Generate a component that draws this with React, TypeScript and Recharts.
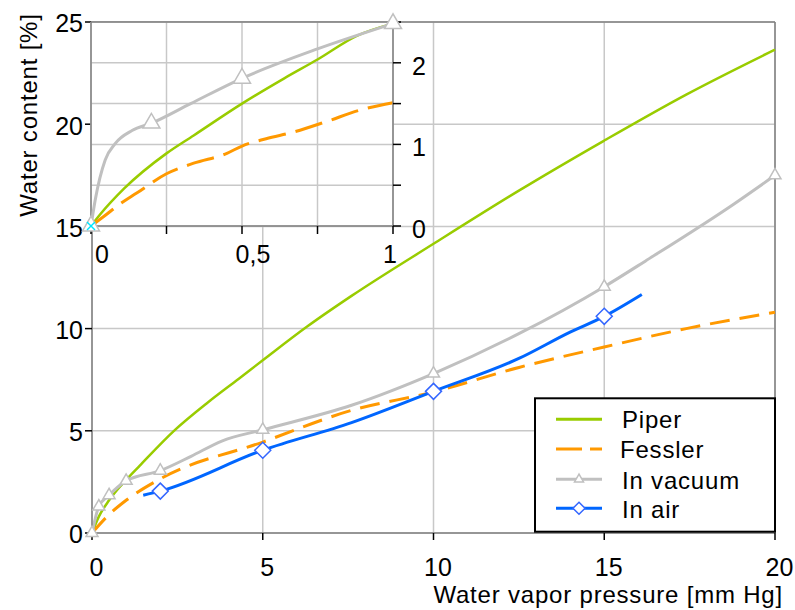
import React from 'react';
import { CartesianGrid, Line, LineChart, ReferenceLine, XAxis, YAxis } from 'recharts';

const FONT = '"Liberation Sans", Arial, sans-serif';

// main chart: water vapor pressure [mm Hg] -> water content [%]
const piperP = [0, 0.2, 0.5, 1, 1.4, 2.4, 3.4, 4.3, 5, 6.3, 7.6, 10, 12.5, 15, 17.4, 20];
const piperW = [0, 0.8, 1.6, 2.6, 3.3, 5.0, 6.4, 7.55, 8.45, 10.1, 11.6, 14.15, 16.75, 19.2, 21.45, 23.65];

const fesslerP = [0, 0.5, 1, 2, 5, 7.6, 10, 12.5, 15, 17.4, 20];
const fesslerW = [0, 0.9, 1.6, 2.65, 4.45, 6.0, 6.9, 8.1, 9.1, 10.0, 10.8];

const vacuumP = [0, 0.2, 0.5, 1, 2, 2.9, 3.8, 5, 7.6, 10, 12.5, 15, 16.2, 18.8, 20];
const vacuumW = [0, 1.3, 1.85, 2.55, 3.05, 3.75, 4.5, 5.05, 6.25, 7.8, 9.75, 12.05, 13.3, 16.1, 17.5];
const vacuumMarks = [0, 0.2, 0.5, 1, 2, 5, 10, 15, 20];

const airP = [1.5, 2, 5, 7.6, 10, 12.5, 14, 15, 16.1];
const airW = [1.85, 2.05, 4.05, 5.4, 6.93, 8.54, 9.83, 10.6, 11.67];
const airMarks = [2, 5, 10, 15];

// inset: 0..1 mm Hg
const insetPiperP = [0, 0.03, 0.11, 0.25, 0.34, 0.5, 0.64, 0.75, 0.88, 1];
const insetPiperW = [0, 0.14, 0.46, 0.89, 1.11, 1.5, 1.81, 2.04, 2.33, 2.48];

const insetFesslerP = [0, 0.04, 0.1, 0.15, 0.25, 0.34, 0.45, 0.5, 0.58, 0.67, 0.78, 0.89, 1];
const insetFesslerW = [0, 0.11, 0.28, 0.4, 0.64, 0.77, 0.89, 0.98, 1.07, 1.15, 1.28, 1.42, 1.51];

const insetVacuumP = [0, 0.014, 0.047, 0.08, 0.136, 0.2, 0.33, 0.5, 0.75, 1];
const insetVacuumW = [0, 0.32, 0.81, 1.01, 1.17, 1.26, 1.5, 1.81, 2.17, 2.48];
const insetVacuumMarks = [0, 0.2, 0.5, 1];

const insetAirP = [0];
const insetAirW = [0];

const mainXTicks = [0, 5, 10, 15, 20];
const mainYTicks = [0, 5, 10, 15, 20, 25];
const insetXTicks = [0, 0.25, 0.5, 0.75, 1];
const insetYTicks = [0, 0.5, 1, 1.5, 2, 2.5];
const insetXLabels: Record<string, string> = { '0': '0', '0.5': '0,5', '1': '1' };

const seriesNames = ['Piper', 'Fessler', 'In vacuum', 'In air'];
const xTitle = 'Water vapor pressure [mm Hg]';
const yTitle = 'Water content [%]';

const GREEN = '#99cc00';
const ORANGE = '#ff9900';
const GRAY = '#c0c0c0';
const BLUE = '#0066ff';
const DIAMOND = '#3366ff';
const GRID = '#c8c8c8';
const AXIS = '#808080';

const rows = (p: number[], w: number[], marks: number[] = []) =>
  p.map((x, i) => ({ p: x, w: w[i], m: marks.includes(x) }));

const piperData = rows(piperP, piperW);
const fesslerData = rows(fesslerP, fesslerW);
const vacuumData = rows(vacuumP, vacuumW, vacuumMarks);
const airData = rows(airP, airW, airMarks);
const insetPiperData = rows(insetPiperP, insetPiperW);
const insetFesslerData = rows(insetFesslerP, insetFesslerW);
const insetVacuumData = rows(insetVacuumP, insetVacuumW, insetVacuumMarks);
const insetAirData = rows(insetAirP, insetAirW, insetAirP);

const trianglePts = (cx: number, cy: number, w: number) =>
  `${cx},${cy - w * 0.577} ${cx - w / 2},${cy + w * 0.289} ${cx + w / 2},${cy + w * 0.289}`;

const diamondPts = (cx: number, cy: number, r: number) =>
  `${cx},${cy - r} ${cx + r},${cy} ${cx},${cy + r} ${cx - r},${cy}`;

const triangleDot = (w: number) => (props: any) => {
  const { cx, cy, payload, index } = props;
  if (!payload.m) return <g key={index} />;
  return <polygon key={index} points={trianglePts(cx, cy, w)} fill="#fff" stroke={GRAY} strokeWidth={1.5} />;
};

const diamondDot = (props: any) => {
  const { cx, cy, payload, index } = props;
  if (!payload.m) return <g key={index} />;
  return <polygon key={index} points={diamondPts(cx, cy, 8)} fill="#fff" stroke={DIAMOND} strokeWidth={1.5} />;
};

const crossDot = (props: any) => {
  const { cx, cy, index } = props;
  return (
    <g key={index} stroke="#00e5ff" strokeWidth={1.5}>
      <line x1={cx - 4} y1={cy - 4} x2={cx + 4} y2={cy + 4} />
      <line x1={cx - 4} y1={cy + 4} x2={cx + 4} y2={cy - 4} />
    </g>
  );
};

const insetShift: Record<string, number> = { '0': 11, '0.5': 11, '1': -3 };

const InsetXTick = (props: any) => {
  const { x, y, payload } = props;
  const key = String(payload.value);
  const label = insetXLabels[key];
  if (!label) return <g />;
  return (
    <text x={x + (insetShift[key] || 0)} y={y} dy="0.71em" textAnchor="middle" fontSize={25} fontFamily={FONT} fill="#000">
      {label}
    </text>
  );
};

const tickFont = { fill: '#000', fontSize: 25, fontFamily: FONT };

const App = () => {
  return (
    <div style={{ position: 'absolute', left: 0, top: 0, width: 795, height: 610, background: '#fff' }}>
      <div style={{ position: 'absolute', left: 0, top: 0 }}>
        <LineChart width={795} height={610} margin={{ top: 22, right: 20, bottom: 0, left: 0 }}>
          <CartesianGrid stroke={GRID} strokeWidth={1.5} />
          <XAxis
            dataKey="p"
            type="number"
            domain={[0, 20]}
            ticks={mainXTicks}
            interval={0}
            height={77}
            axisLine={{ stroke: AXIS, strokeWidth: 1.5 }}
            tickLine={{ stroke: '#000', strokeWidth: 1.5 }}
            tickSize={7}
            tickMargin={18}
            tick={{ ...tickFont, dx: 4.5 }}
          />
          <YAxis
            type="number"
            domain={[0, 25]}
            ticks={mainYTicks}
            interval={0}
            width={92}
            axisLine={{ stroke: AXIS, strokeWidth: 1.5 }}
            tickLine={{ stroke: '#000', strokeWidth: 1.5 }}
            tickSize={7}
            tickMargin={2}
            tick={{ ...tickFont, dy: 1.5 }}
          />
          <ReferenceLine y={25} stroke={AXIS} strokeWidth={1.5} />
          <ReferenceLine x={20} stroke={AXIS} strokeWidth={1.5} />
          <Line data={piperData} dataKey="w" name={seriesNames[0]} type="monotone" stroke={GREEN} strokeWidth={2.5} dot={false} isAnimationActive={false} />
          <Line data={fesslerData} dataKey="w" name={seriesNames[1]} type="monotone" stroke={ORANGE} strokeWidth={3} strokeDasharray="20 10" dot={false} isAnimationActive={false} />
          <Line data={vacuumData} dataKey="w" name={seriesNames[2]} type="monotone" stroke={GRAY} strokeWidth={3} dot={triangleDot(12)} isAnimationActive={false} />
          <Line data={airData} dataKey="w" name={seriesNames[3]} type="monotone" stroke={BLUE} strokeWidth={3} dot={diamondDot} isAnimationActive={false} />
        </LineChart>
      </div>

      <div style={{ position: 'absolute', left: 0, top: 0 }}>
        <LineChart width={460} height={275} margin={{ top: 22, right: 17, bottom: 0, left: 91 }}>
          <CartesianGrid stroke={GRID} strokeWidth={1.5} fill="#fff" fillOpacity={1} />
          <XAxis
            dataKey="p"
            type="number"
            domain={[0, 1]}
            ticks={insetXTicks}
            interval={0}
            height={49}
            axisLine={{ stroke: AXIS, strokeWidth: 1.5 }}
            tickLine={{ stroke: '#000', strokeWidth: 1.5 }}
            tickSize={8}
            tickMargin={11}
            tick={<InsetXTick />}
          />
          <YAxis
            orientation="right"
            type="number"
            domain={[0, 2.5]}
            ticks={insetYTicks}
            interval={0}
            width={50}
            axisLine={{ stroke: AXIS, strokeWidth: 1.5 }}
            tickLine={{ stroke: '#000', strokeWidth: 1.5 }}
            tickSize={8}
            tickMargin={11}
            tickFormatter={(v: number) => (Number.isInteger(v) ? String(v) : '')}
            tick={{ ...tickFont, dy: 3 }}
          />
          <ReferenceLine y={2.5} stroke={AXIS} strokeWidth={1.5} />
          <ReferenceLine x={0} stroke={AXIS} strokeWidth={1.5} />
          <Line data={insetPiperData} dataKey="w" type="monotone" stroke={GREEN} strokeWidth={2.5} dot={false} isAnimationActive={false} />
          <Line data={insetFesslerData} dataKey="w" type="monotone" stroke={ORANGE} strokeWidth={3} strokeDasharray="28 10" dot={false} isAnimationActive={false} />
          <Line data={insetVacuumData} dataKey="w" type="monotone" stroke={GRAY} strokeWidth={3} dot={triangleDot(17)} isAnimationActive={false} />
          <Line data={insetAirData} dataKey="w" stroke="none" dot={crossDot} isAnimationActive={false} />
        </LineChart>
      </div>

      <svg width={795} height={610} style={{ position: 'absolute', left: 0, top: 0, pointerEvents: 'none' }}>
        <text x={36.5} y={115} transform="rotate(-90 36.5 115)" textAnchor="middle" fontSize={24} letterSpacing={0.8} fontFamily={FONT} fill="#000">
          {yTitle}
        </text>
        <text x={783} y={602.5} textAnchor="end" fontSize={24} letterSpacing={0.8} fontFamily={FONT} fill="#000">
          {xTitle}
        </text>
      </svg>

      <svg width={243} height={137} style={{ position: 'absolute', left: 534, top: 397 }}>
        <rect x={1} y={1.3} width={240} height={133.4} fill="#fff" stroke="#000" strokeWidth={2} />
        <line x1={22} y1={22.3} x2={68} y2={22.3} stroke={GREEN} strokeWidth={3} />
        <line x1={22} y1={52} x2={68} y2={52} stroke={ORANGE} strokeWidth={3} strokeDasharray="26 8" />
        <line x1={22} y1={82.3} x2={68} y2={82.3} stroke={GRAY} strokeWidth={3} />
        <polygon points={trianglePts(45, 82.3, 9)} fill="#fff" stroke={GRAY} strokeWidth={1.5} />
        <line x1={22} y1={111.3} x2={68} y2={111.3} stroke={BLUE} strokeWidth={3} />
        <polygon points={diamondPts(45, 111.3, 6)} fill="#fff" stroke={DIAMOND} strokeWidth={1.5} />
        <text x={88} y={31.3} fontSize={24} letterSpacing={0.8} fontFamily={FONT} fill="#000">{seriesNames[0]}</text>
        <text x={86} y={61.3} fontSize={24} letterSpacing={0.8} fontFamily={FONT} fill="#000">{seriesNames[1]}</text>
        <text x={88} y={92.3} fontSize={24} letterSpacing={0.8} fontFamily={FONT} fill="#000">{seriesNames[2]}</text>
        <text x={88} y={120.7} fontSize={24} letterSpacing={0.8} fontFamily={FONT} fill="#000">{seriesNames[3]}</text>
      </svg>
    </div>
  );
};

export default App;
